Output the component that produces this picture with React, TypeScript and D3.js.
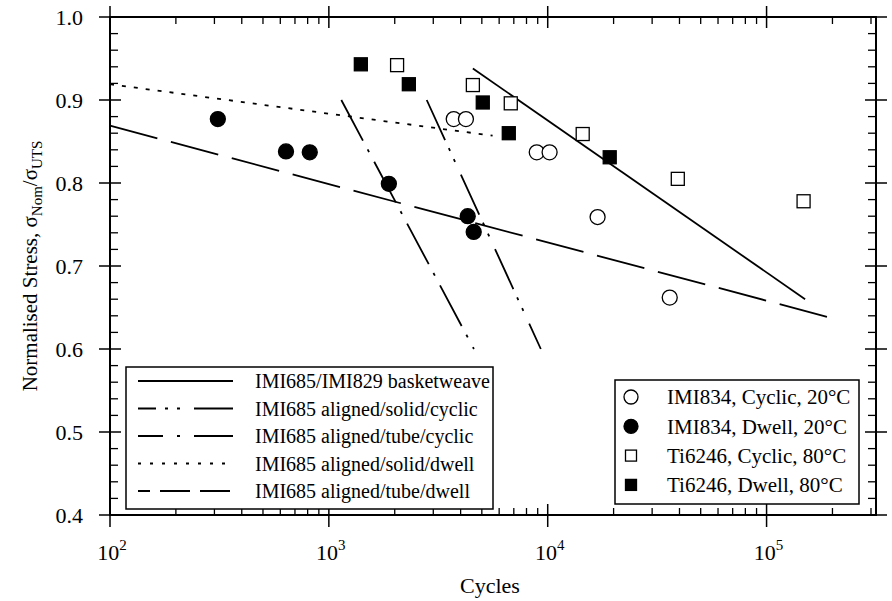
import React from 'react';
import * as d3 from 'd3';

// scatter series: [cycles, normalised stress]
const imi834Cyclic = [[3720, 0.877], [4230, 0.877], [8910, 0.837], [10200, 0.837], [16900, 0.759], [36100, 0.662]];
const imi834Dwell = [[311, 0.877], [637, 0.838], [818, 0.837], [1880, 0.799], [4310, 0.76], [4590, 0.741]];
const ti6246Cyclic = [[2050, 0.942], [4550, 0.918], [6780, 0.896], [14450, 0.859], [39300, 0.805], [147600, 0.778]];
const ti6246Dwell = [[1400, 0.943], [2320, 0.919], [5050, 0.897], [6640, 0.86], [19200, 0.831]];

// fitted lines
const basketweave = [[4550, 0.938], [150000, 0.66]];
const solidCyclic = [[2800, 0.9], [9300, 0.6]];
const tubeCyclic = [[1140, 0.9], [4600, 0.6]];
const solidDwell = [[100, 0.919], [5600, 0.857]];
const tubeDwell = [[100, 0.869], [200000, 0.637]];

const yTicks = [0.4, 0.5, 0.6, 0.7, 0.8, 0.9, 1.0];
const xDecades = [2, 3, 4, 5];

const lineLegend = [
  { label: 'IMI685/IMI829 basketweave', dash: 'none', legendDash: 'none', off: 0 },
  { label: 'IMI685 aligned/solid/cyclic', dash: '44,9,3,9,3,14', legendDash: '44,9,3,9,3,14', off: 26 },
  { label: 'IMI685 aligned/tube/cyclic', dash: '46,10,3,11', legendDash: '46,14,3,14', off: 21 },
  { label: 'IMI685 aligned/solid/dwell', dash: '4,8', legendDash: '3,9', off: 0 },
  { label: 'IMI685 aligned/tube/dwell', dash: '49,14', legendDash: '30,10', off: 18 },
];
const lineData = [basketweave, solidCyclic, tubeCyclic, solidDwell, tubeDwell];

const markerLegend = [
  { label: 'IMI834, Cyclic, 20°C', shape: 'circle', fill: 'white' },
  { label: 'IMI834, Dwell, 20°C', shape: 'circle', fill: 'black' },
  { label: 'Ti6246, Cyclic, 80°C', shape: 'square', fill: 'white' },
  { label: 'Ti6246, Dwell, 80°C', shape: 'square', fill: 'black' },
];
const markerData = [imi834Cyclic, imi834Dwell, ti6246Cyclic, ti6246Dwell];

const font = '"Liberation Serif", "Times New Roman", serif';

export default function App() {
  const left = 110, right = 876, top = 17, bottom = 515;
  const x = d3.scaleLog().domain([100, Math.pow(10, 5.5)]).range([left, right]);
  const y = d3.scaleLinear().domain([0.4, 1.0]).range([bottom, top]);
  const line = d3.line<number[]>().x(d => x(d[0])).y(d => y(d[1]));

  const xMinor: number[] = [];
  for (let e = 2; e <= 5; e++) {
    for (let k = 2; k <= 9; k++) {
      const v = k * Math.pow(10, e);
      if (v < Math.pow(10, 5.5)) xMinor.push(v);
    }
  }
  const yMinor = d3.range(0.42, 1.0, 0.02).filter(v => Math.abs(v * 10 - Math.round(v * 10)) > 0.01);

  const marker = (shape: string, fill: string, cx: number, cy: number, s: number, key: any) =>
    shape === 'circle'
      ? <circle key={key} cx={cx} cy={cy} r={s} fill={fill} stroke="black" strokeWidth={1.3} />
      : <rect key={key} x={cx - s} y={cy - s} width={2 * s} height={2 * s} fill={fill} stroke="black" strokeWidth={1.3} />;

  return (
    <svg width={892} height={601} style={{ position: 'absolute', left: 0, top: 0, background: 'white' }}
      fontFamily={font}>
      {/* lines */}
      {lineData.map((d, i) => (
        <path key={'l' + i} d={line(d) || ''} fill="none" stroke="black" strokeWidth={1.8}
          strokeDasharray={lineLegend[i].dash} />
      ))}
      {/* markers */}
      {markerData.map((s, i) => s.map((d, j) =>
        marker(markerLegend[i].shape, markerLegend[i].fill, x(d[0]), y(d[1]),
          markerLegend[i].shape === 'circle' ? 7.5 : 6.5, 'm' + i + '-' + j)))}

      {/* frame */}
      <rect x={left} y={top} width={right - left} height={bottom - top} fill="none" stroke="black" strokeWidth={2} />

      {/* y ticks */}
      {yTicks.map(t => (
        <g key={'yt' + t}>
          <line x1={left - 11} x2={left + 11} y1={y(t)} y2={y(t)} stroke="black" strokeWidth={1.5} />
          <line x1={right - 11} x2={right + 11} y1={y(t)} y2={y(t)} stroke="black" strokeWidth={1.5} />
          <text x={left - 27} y={y(t)} dy="0.35em" textAnchor="end" fontSize={22}>{t.toFixed(1)}</text>
        </g>
      ))}
      {yMinor.map(t => (
        <g key={'ym' + t}>
          <line x1={left} x2={left + 8} y1={y(t)} y2={y(t)} stroke="black" strokeWidth={1.3} />
          <line x1={right - 8} x2={right} y1={y(t)} y2={y(t)} stroke="black" strokeWidth={1.3} />
        </g>
      ))}

      {/* x ticks */}
      {xDecades.map(e => {
        const px = x(Math.pow(10, e));
        return (
          <g key={'xt' + e}>
            <line x1={px} x2={px} y1={bottom - 11} y2={bottom + 12} stroke="black" strokeWidth={1.5} />
            <line x1={px} x2={px} y1={top - 11} y2={top + 11} stroke="black" strokeWidth={1.5} />
            <text x={px + 2} y={bottom + 45} textAnchor="middle" fontSize={22}>
              10<tspan dy={-10} fontSize={15}>{e}</tspan>
            </text>
          </g>
        );
      })}
      {xMinor.map(v => (
        <g key={'xm' + v}>
          <line x1={x(v)} x2={x(v)} y1={bottom - 7} y2={bottom} stroke="black" strokeWidth={1.3} />
          <line x1={x(v)} x2={x(v)} y1={top} y2={top + 7} stroke="black" strokeWidth={1.3} />
        </g>
      ))}

      {/* axis titles */}
      <text x={(left + right) / 2 - 3} y={593} textAnchor="middle" fontSize={22}>Cycles</text>
      <text transform={`translate(37,266) rotate(-90)`} textAnchor="middle" fontSize={21}>
        Normalised Stress, σ<tspan dy={5} fontSize={15}>Nom</tspan><tspan dy={-5}>/σ</tspan><tspan dy={5} fontSize={15}>UTS</tspan>
      </text>

      {/* line legend */}
      <rect x={126} y={367} width={367} height={142} fill="white" stroke="black" strokeWidth={1.5} />
      {lineLegend.map((l, i) => {
        const ly = 381 + i * 27.5;
        return (
          <g key={'ll' + i}>
            <line x1={138} x2={233} y1={ly} y2={ly} stroke="black" strokeWidth={1.8}
              strokeDasharray={l.legendDash} strokeDashoffset={l.off} />
            <text x={255} y={ly} dy="0.35em" fontSize={20}>{l.label}</text>
          </g>
        );
      })}

      {/* marker legend */}
      <rect x={615} y={380} width={244} height={124} fill="white" stroke="black" strokeWidth={1.5} />
      {markerLegend.map((m, i) => {
        const ly = 397 + i * 29.3;
        return (
          <g key={'ml' + i}>
            {marker(m.shape, m.fill, 631, ly, m.shape === 'circle' ? 7 : 5.5, 'lm' + i)}
            <text x={667} y={ly} dy="0.35em" fontSize={21}>{m.label}</text>
          </g>
        );
      })}
    </svg>
  );
}
